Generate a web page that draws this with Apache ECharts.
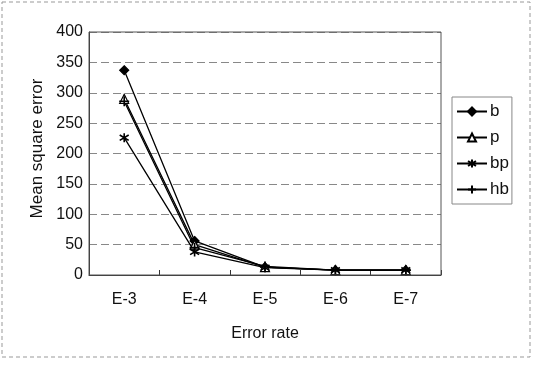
<!DOCTYPE html>
<html><head><meta charset="utf-8">
<script src="https://cdn.jsdelivr.net/npm/echarts@6/dist/echarts.min.js"></script>
<style>html,body{margin:0;padding:0;background:#fff}#c{width:534px;height:365px}</style>
</head><body><div id="c"></div>
<script>
const categories = ['E-3','E-4','E-5','E-6','E-7'];
const b  = [337, 56, 13, 8, 8];
const p  = [290, 50, 13, 8, 8];
const bp = [226, 38, 12, 8, 8];
const hb = [286, 45, 14, 8, 8];
const yTicks = [0, 400, 50];

const starPath = 'path://M0,-10L0,10M-9,-6L9,6M-9,6L9,-6';
const plusPath = 'path://M0,-10L0,10M-10,0L10,0';
const font = '"Liberation Sans", Arial, sans-serif';

const chart = echarts.init(document.getElementById('c'));
function s(name, data, symbol, size, fill){
  return {name, type:'line', data, symbol, symbolSize:size, showSymbol:true,
    lineStyle:{color:'#000', width:1.3},
    itemStyle:{color: fill, borderColor:'#000', borderWidth: symbol.startsWith('path')?1.6:1.2},
    emphasis:{disabled:true}, animation:false, z:3};
}
chart.setOption({
  animation:false,
  graphic:[{type:'rect', shape:{x:2, y:2, width:528, height:355}, style:{fill:'none', stroke:'#999', lineWidth:1, lineDash:[4,3]}, z:0},
           {type:'rect', shape:{x:89, y:32, width:352, height:243}, style:{fill:'none', stroke:'#555', lineWidth:1}, z:5}],
  grid:{left:89, top:32, width:352, height:243, containLabel:false},
  legend:{
    orient:'vertical', left:452, top:97, itemGap:9, itemWidth:30, itemHeight:10,
    data:['b','p','bp','hb'],
    textStyle:{fontFamily:font, fontSize:17, color:'#111', padding:[0,0,0,-2]},
    borderColor:'#888', borderWidth:1, padding:[6,3,6,4]
  },
  xAxis:{type:'category', data:categories, boundaryGap:true,
    axisLine:{lineStyle:{color:'#333'}},
    axisTick:{show:true, inside:true, length:5, lineStyle:{color:'#333'}},
    axisLabel:{fontFamily:font, fontSize:16, color:'#111', margin:17},
    name:'Error rate', nameLocation:'middle', nameGap:51,
    nameTextStyle:{fontFamily:font, fontSize:16, color:'#111'}},
  yAxis:{type:'value', min:yTicks[0], max:yTicks[1], interval:yTicks[2],
    axisLine:{show:true, lineStyle:{color:'#333'}},
    axisTick:{show:false},
    splitLine:{lineStyle:{color:'#888', type:[8,4]}},
    axisLabel:{fontFamily:font, fontSize:16, color:'#111', margin:6},
    name:'Mean square error', nameLocation:'middle', nameGap:43,
    nameTextStyle:{fontFamily:font, fontSize:17, color:'#111', padding:[0,0,0,10]}},
  series:[
    s('b', b, 'diamond', 9, '#000'),
    s('p', p, 'triangle', 9, '#fff'),
    s('bp', bp, starPath, 9, '#000'),
    s('hb', hb, plusPath, 10, '#000')
  ]
});
</script></body></html>
